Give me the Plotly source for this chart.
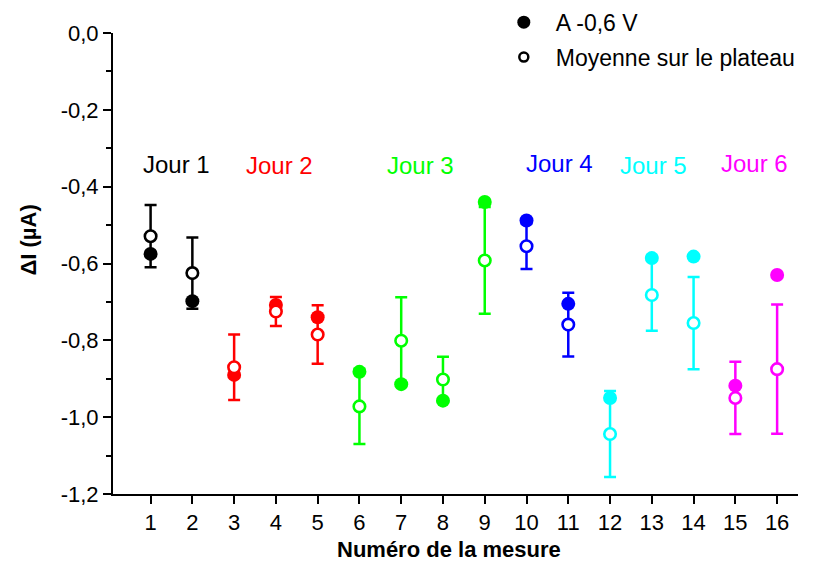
import plotly.graph_objects as go

# Measurement index (1..16) and the day each measurement belongs to
mesure = list(range(1, 17))
jour = [1, 1, 2, 2, 2, 3, 3, 3, 3, 4, 4, 5, 5, 5, 6, 6]

# Current change at -0.6 V (filled circles), in µA
i_06V = [-0.575, -0.698, -0.890, -0.708, -0.740, -0.882, -0.914, -0.957,
         -0.440, -0.488, -0.705, -0.950, -0.586, -0.582, -0.918, -0.630]

# Mean over the plateau (open circles) and its standard deviation, in µA
i_plateau = [-0.529, -0.625, -0.870, -0.725, -0.785, -0.972, -0.801, -0.902,
             -0.592, -0.555, -0.759, -1.044, -0.682, -0.755, -0.950, -0.875]
i_plateau_err = [0.081, 0.093, 0.085, 0.038, 0.076, 0.098, 0.113, 0.059,
                 0.139, 0.059, 0.083, 0.112, 0.093, 0.120, 0.094, 0.168]

# Day labels and colours
jour_labels = ["Jour 1", "Jour 2", "Jour 3", "Jour 4", "Jour 5", "Jour 6"]
jour_colors = ["#000000", "#FF0000", "#00FF00", "#0000FF", "#00FFFF", "#FF00FF"]
jour_label_x = [1.62, 4.09, 7.47, 10.78, 13.04, 15.47]
jour_label_y = [-0.342, -0.346, -0.346, -0.340, -0.344, -0.340]

# Axis ticks
y_tickvals = [0.0, -0.2, -0.4, -0.6, -0.8, -1.0, -1.2]
y_ticktext = ["0,0", "-0,2", "-0,4", "-0,6", "-0,8", "-1,0", "-1,2"]

FONT = "Liberation Sans, Arial, sans-serif"

fig = go.Figure()

for d in range(1, 7):
    idx = [k for k, j in enumerate(jour) if j == d]
    col = jour_colors[d - 1]
    xs = [mesure[k] for k in idx]
    # filled circles: value at -0.6 V
    fig.add_trace(go.Scatter(
        x=xs, y=[i_06V[k] for k in idx], mode="markers",
        marker=dict(symbol="circle", size=14, color=col, line=dict(width=0)),
        showlegend=False, hoverinfo="x+y"))
    # open circles with error bars: plateau mean
    fig.add_trace(go.Scatter(
        x=xs, y=[i_plateau[k] for k in idx], mode="markers",
        marker=dict(symbol="circle", size=11.5, color="white",
                    line=dict(width=2.6, color=col)),
        error_y=dict(type="data", array=[i_plateau_err[k] for k in idx],
                     visible=True, color=col, thickness=2.5, width=6),
        showlegend=False, hoverinfo="x+y"))

# legend entries
fig.add_trace(go.Scatter(
    x=[None], y=[None], mode="markers", name="A -0,6 V", legendgroup="a",
    marker=dict(symbol="circle", size=13, color="black", line=dict(width=0))))
fig.add_trace(go.Scatter(
    x=[None], y=[None], mode="markers", name="Moyenne sur le plateau",
    legendgroup="b",
    marker=dict(symbol="circle", size=9, color="white",
                line=dict(width=2.5, color="black"))))

annotations = []
for lab, col, xa, ya in zip(jour_labels, jour_colors, jour_label_x, jour_label_y):
    annotations.append(dict(x=xa, y=ya, xref="x", yref="y", text=lab,
                            showarrow=False, xanchor="center", yanchor="middle",
                            font=dict(family=FONT, size=24, color=col)))

# axis titles
annotations.append(dict(x=0.49, y=-0.12, xref="paper", yref="paper",
                        text="<b>Numéro de la mesure</b>", showarrow=False,
                        xanchor="center", yanchor="middle",
                        font=dict(family=FONT, size=22, color="black")))
annotations.append(dict(x=-0.124, y=0.55, xref="paper", yref="paper",
                        text="<b>ΔI (µA)</b>", showarrow=False, textangle=-90,
                        xanchor="center", yanchor="middle",
                        font=dict(family=FONT, size=22, color="black")))

fig.update_layout(
    width=819, height=563,
    margin=dict(l=113, r=21, t=33, b=69, autoexpand=False),
    paper_bgcolor="white", plot_bgcolor="white",
    font=dict(family=FONT, size=22, color="black"),
    showlegend=True,
    legend=dict(x=0.553, y=1.07, xanchor="left", yanchor="top",
                bgcolor="rgba(0,0,0,0)", borderwidth=0,
                font=dict(family=FONT, size=23, color="black"),
                itemwidth=54, tracegroupgap=2, traceorder="grouped"),
    annotations=annotations,
)

fig.update_xaxes(
    range=[0.1, 16.5], tickvals=mesure, ticktext=[str(m) for m in mesure],
    showline=True, linecolor="black", linewidth=2,
    ticks="outside", ticklen=8, tickwidth=2, tickcolor="black",
    showgrid=False, zeroline=False, mirror=False,
    tickfont=dict(family=FONT, size=22, color="black"))

fig.update_yaxes(
    range=[-1.2, 0.0], tickvals=y_tickvals, ticktext=y_ticktext,
    showline=True, linecolor="black", linewidth=2,
    ticks="outside", ticklen=8, tickwidth=2, tickcolor="black",
    minor=dict(ticks="outside", dtick=0.1, ticklen=5, tickwidth=2,
               tickcolor="black", showgrid=False),
    showgrid=False, zeroline=False, mirror=False,
    tickfont=dict(family=FONT, size=22, color="black"))

fig.write_html("out.html")
